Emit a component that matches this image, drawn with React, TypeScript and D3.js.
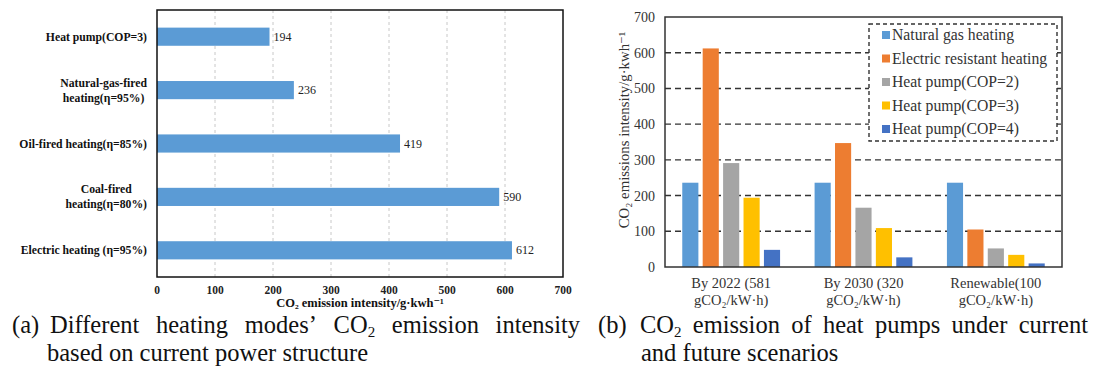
import React, { useEffect, useRef } from 'react';
import * as d3 from 'd3';

// left chart data
const modes = [
  ['Heat pump(COP=3)'],
  ['Natural-gas-fired', 'heating(η=95%)'],
  ['Oil-fired heating(η=85%)'],
  ['Coal-fired', 'heating(η=80%)'],
  ['Electric heating (η=95%)'],
];
const modeValues = [194, 236, 419, 590, 612];
const xTicksA = [0, 100, 200, 300, 400, 500, 600, 700];

// right chart data
const scenarios = [
  ['By 2022 (581', 'gCO₂/kW·h)'],
  ['By 2030 (320', 'gCO₂/kW·h)'],
  ['Renewable(100', 'gCO₂/kW·h)'],
];
const seriesNames = [
  'Natural gas heating',
  'Electric resistant heating',
  'Heat pump(COP=2)',
  'Heat pump(COP=3)',
  'Heat pump(COP=4)',
];
const seriesColors = ['#5B9BD5', '#ED7D31', '#A5A5A5', '#FFC000', '#4472C4'];
const naturalGas = [236, 236, 236];
const electricResistant = [612, 347, 105];
const heatPump2 = [291, 166, 52];
const heatPump3 = [194, 109, 34];
const heatPump4 = [48, 27, 10];
const yTicksB = [0, 100, 200, 300, 400, 500, 600, 700];

const serif = 'Liberation Serif, DejaVu Serif, serif';

export default function App() {
  const svgRef = useRef<SVGSVGElement>(null);
  const W = 1095, H = 371;

  useEffect(() => {
    const svg = d3.select(svgRef.current);
    svg.selectAll('*').remove();
    svg.append('rect').attr('width', W).attr('height', H).attr('fill', '#fff');

    // ---------- (a) horizontal bars ----------
    const a = { l: 157, r: 563, t: 10, b: 277 };
    const xa = d3.scaleLinear().domain([0, 700]).range([a.l, a.r]);
    const ya = d3.scaleBand<number>().domain(d3.range(modes.length)).range([a.t, a.b]).paddingInner(0.66).paddingOuter(0.33);
    const ga = svg.append('g');

    ga.selectAll('line.grid').data(xTicksA.slice(1, -1)).join('line')
      .attr('x1', d => xa(d)).attr('x2', d => xa(d)).attr('y1', a.t).attr('y2', a.b)
      .attr('stroke', '#c8c8c8').attr('stroke-width', 1).attr('stroke-dasharray', '3,3');

    ga.selectAll('rect.bar').data(modeValues).join('rect')
      .attr('x', xa(0)).attr('y', (_, i) => ya(i)!)
      .attr('width', d => xa(d) - xa(0)).attr('height', ya.bandwidth())
      .attr('fill', '#5B9BD5');

    ga.selectAll('text.val').data(modeValues).join('text')
      .attr('x', d => xa(d) + 4).attr('y', (_, i) => ya(i)! + ya.bandwidth() / 2 + 4)
      .style('font-family', serif).attr('font-size', 12).attr('fill', '#222')
      .text(d => d);

    ga.append('rect').attr('x', a.l).attr('y', a.t).attr('width', a.r - a.l).attr('height', a.b - a.t)
      .attr('fill', 'none').attr('stroke', '#111').attr('stroke-width', 1.5);

    ga.selectAll('text.tick').data(xTicksA).join('text')
      .attr('x', d => xa(d)).attr('y', 294).attr('text-anchor', 'middle')
      .style('font-family', serif).attr('font-size', 11.5).attr('font-weight', 'bold').attr('fill', '#222')
      .text(d => d);

    ga.append('text').attr('x', xa(350)).attr('y', 307).attr('text-anchor', 'middle')
      .style('font-family', serif).attr('font-size', 12.5).attr('font-weight', 'bold').attr('fill', '#111')
      .text('CO₂ emission intensity/g·kwh⁻¹');

    modes.forEach((lines, i) => {
      const cy = ya(i)! + ya.bandwidth() / 2;
      const t = ga.append('text').style('font-family', serif).attr('font-size', 11.7)
        .attr('font-weight', 'bold').attr('fill', '#111');
      const spans = lines.map((s, j) => t.append('tspan').attr('y', cy + 4 + (j - (lines.length - 1) / 2) * 15).text(s));
      const widths = spans.map(sp => (sp.node() as SVGTSpanElement).getComputedTextLength());
      const maxW = Math.max(...widths);
      spans.forEach((sp, j) => sp.attr('x', 147 - maxW / 2 - widths[j] / 2));
    });

    // ---------- (b) grouped bars ----------
    const b = { l: 665, r: 1062, t: 17, b: 267 };
    const seriesData = [naturalGas, electricResistant, heatPump2, heatPump3, heatPump4];
    const x0 = d3.scaleBand<number>().domain(d3.range(scenarios.length)).range([b.l, b.r]).paddingInner(0.23).paddingOuter(0.115);
    const x1 = d3.scaleBand<number>().domain(d3.range(seriesNames.length)).range([0, x0.bandwidth()]).paddingInner(0.21).paddingOuter(0.1);
    const yb = d3.scaleLinear().domain([0, 700]).range([b.b, b.t]);
    const gb = svg.append('g');

    gb.selectAll('line.grid').data(yTicksB.slice(1, -1)).join('line')
      .attr('x1', b.l).attr('x2', b.r).attr('y1', d => yb(d)).attr('y2', d => yb(d))
      .attr('stroke', '#333').attr('stroke-width', 1.4).attr('stroke-dasharray', '6,4');

    scenarios.forEach((_, gi) => {
      seriesData.forEach((vals, si) => {
        gb.append('rect')
          .attr('x', x0(gi)! + x1(si)!).attr('y', yb(vals[gi]))
          .attr('width', x1.bandwidth()).attr('height', yb(0) - yb(vals[gi]))
          .attr('fill', seriesColors[si]);
      });
    });

    gb.append('rect').attr('x', b.l).attr('y', b.t).attr('width', b.r - b.l).attr('height', b.b - b.t)
      .attr('fill', 'none').attr('stroke', '#333').attr('stroke-width', 1.5);

    gb.selectAll('text.ytick').data(yTicksB).join('text')
      .attr('x', 655).attr('y', d => yb(d) + 5).attr('text-anchor', 'end')
      .style('font-family', serif).attr('font-size', 14).attr('fill', '#333')
      .text(d => d);

    gb.append('text').attr('transform', `translate(629,${(b.t + b.b) / 2 - 12}) rotate(-90)`)
      .attr('text-anchor', 'middle').style('font-family', serif).attr('font-size', 14.8).attr('fill', '#333')
      .text('CO₂ emissions intensity/g·kwh⁻¹');

    scenarios.forEach((lines, gi) => {
      const cx = x0(gi)! + x0.bandwidth() / 2;
      lines.forEach((s, j) => {
        gb.append('text').attr('x', cx).attr('y', 288 + j * 17).attr('text-anchor', 'middle')
          .style('font-family', serif).attr('font-size', 14.5).attr('fill', '#333').text(s);
      });
    });

    // legend
    const lg = gb.append('g');
    lg.append('rect').attr('x', 869).attr('y', 24).attr('width', 188).attr('height', 117)
      .attr('fill', '#fff').attr('stroke', '#333').attr('stroke-width', 1.4).attr('stroke-dasharray', '4,3');
    seriesNames.forEach((name, i) => {
      const cy = 35 + i * 23.5;
      lg.append('rect').attr('x', 882).attr('y', cy - 4).attr('width', 8).attr('height', 8).attr('fill', seriesColors[i]);
      lg.append('text').attr('x', 892).attr('y', cy + 5)
        .style('font-family', serif).attr('font-size', 15.7).attr('fill', '#333').text(name);
    });

    // ---------- captions (word-justified first lines) ----------
    const cap = svg.append('g').style('font-family', serif).attr('font-size', 24.5).attr('fill', '#111');
    const justify = (words: string[][], x0j: number, x1j: number, y: number) => {
      const nodes = words.map(parts => {
        const t = cap.append('text').attr('y', y);
        parts.forEach(p => {
          if (p.startsWith('_')) t.append('tspan').attr('font-size', 15).attr('dy', 4).text(p.slice(1));
          else t.append('tspan').text(p);
        });
        return t;
      });
      const widths = nodes.map(n => (n.node() as SVGTextElement).getComputedTextLength());
      const gap = (x1j - x0j - d3.sum(widths)) / (nodes.length - 1);
      let x = x0j;
      nodes.forEach((n, i) => { n.attr('x', x); x += widths[i] + gap; });
    };
    cap.append('text').attr('x', 12).attr('y', 333).text('(a)');
    justify([['Different'], ['heating'], ['modes’'], ['CO', '_2'], ['emission'], ['intensity']], 50, 580, 333);
    cap.append('text').attr('x', 47).attr('y', 360.5).text('based on current power structure');

    cap.append('text').attr('x', 598).attr('y', 333).text('(b)');
    justify([['CO', '_2'], ['emission'], ['of'], ['heat'], ['pumps'], ['under'], ['current']], 640, 1088, 333);
    cap.append('text').attr('x', 641).attr('y', 360.5).text('and future scenarios');
  }, []);

  return (
    <svg ref={svgRef} width={W} height={H} viewBox={`0 0 ${W} ${H}`}
      style={{ position: 'absolute', left: 0, top: 0, display: 'block' }} />
  );
}
